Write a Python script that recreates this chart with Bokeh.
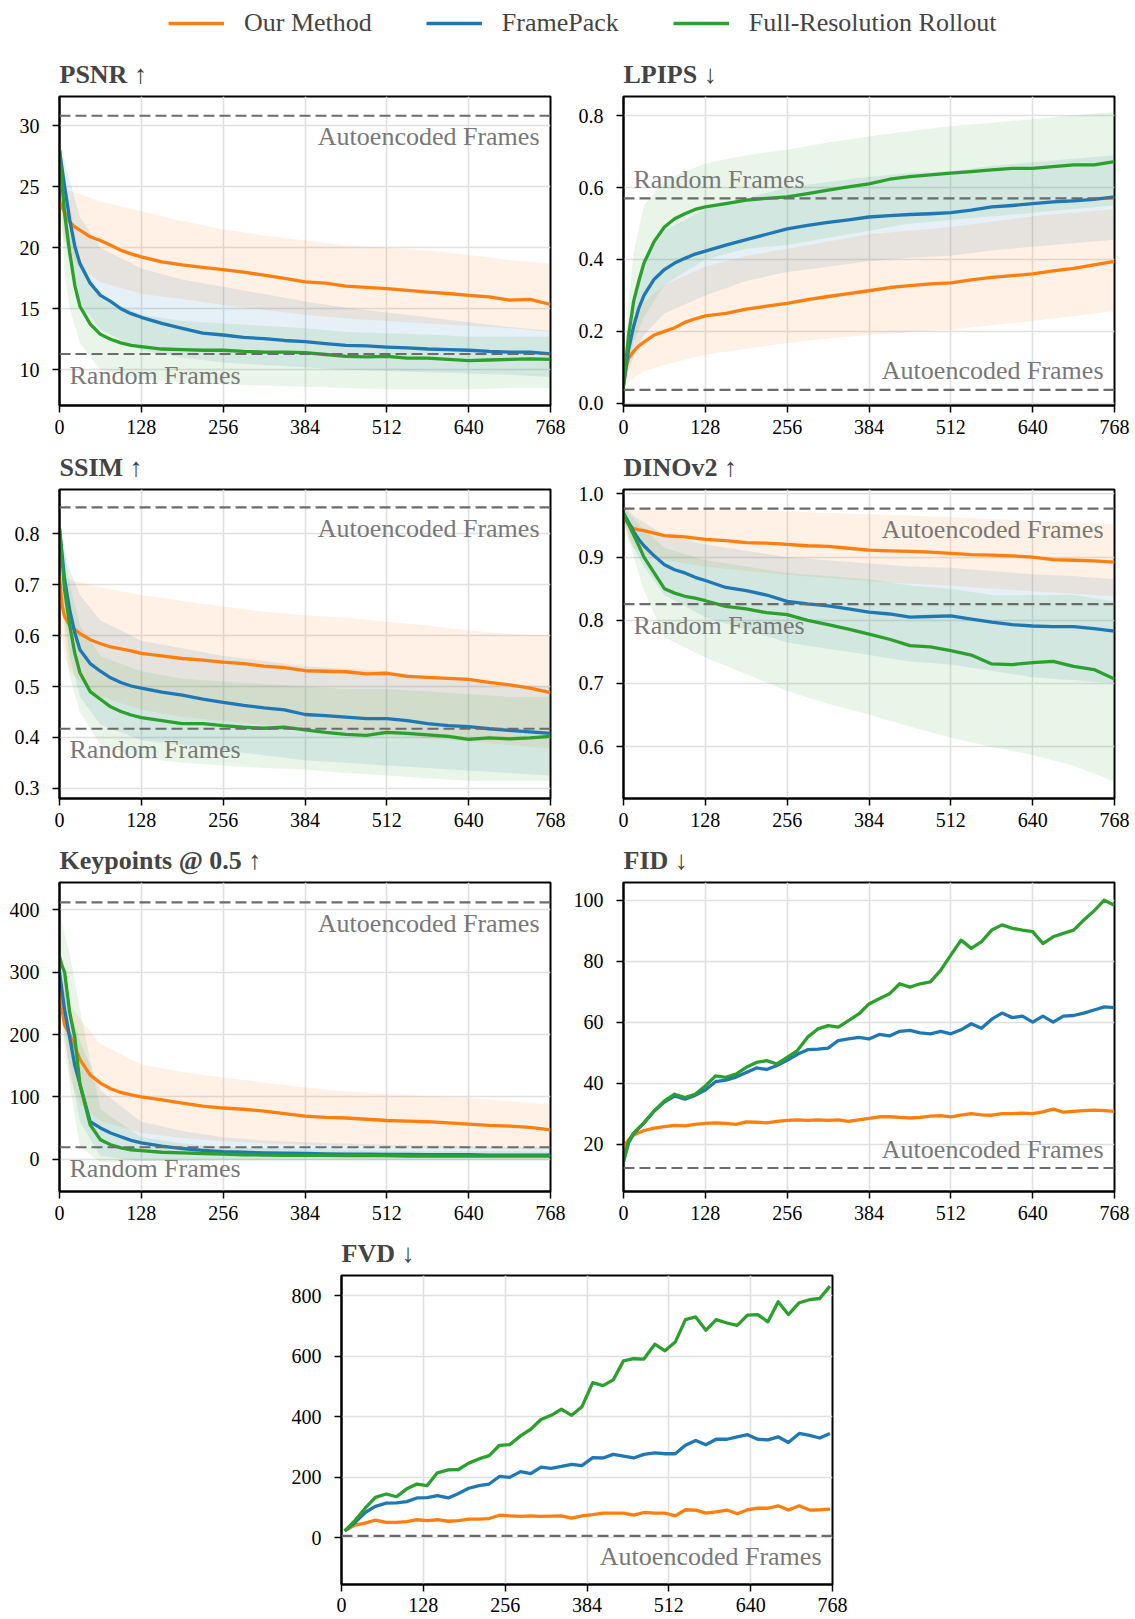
from bokeh.plotting import figure
from bokeh.models import Range1d, FixedTicker, PrintfTickFormatter, Span, Label, Legend, LegendItem
from bokeh.layouts import column, row
from bokeh.embed import file_html
from bokeh.resources import INLINE

# ---------------- data ----------------
METHODS = ["Our Method", "FramePack", "Full-Resolution Rollout"]
X_TICKS = [0, 128, 256, 384, 512, 640, 768]

FRAMES = [0, 4, 8, 16, 24, 32, 48, 64, 80, 96, 112, 128, 160, 192, 224, 256, 288, 320,
          352, 384, 416, 448, 480, 512, 544, 576, 608, 640, 672, 704, 736, 768]
BAND_FRAMES = [0, 8, 16, 32, 64, 128, 192, 256, 320, 384, 448, 512, 576, 640, 704, 768]

# PSNR
PSNR_OURS = [23.8, 23.3, 22.95, 22.1, 21.7, 21.45, 20.9, 20.6, 20.2, 19.8, 19.5, 19.26, 18.85, 18.6, 18.4, 18.2,
             18.0, 17.75, 17.5, 17.2, 17.1, 16.85, 16.75, 16.65, 16.5, 16.37, 16.25, 16.1, 15.97, 15.7, 15.77, 15.35]
PSNR_PACK = [28.0, 26.5, 25.0, 22.3, 20.1, 18.7, 17.1, 16.1, 15.6, 15.0, 14.6, 14.3, 13.8, 13.4, 13.0, 12.85,
             12.65, 12.55, 12.4, 12.3, 12.15, 12.0, 11.95, 11.86, 11.8, 11.7, 11.65, 11.6, 11.5, 11.45, 11.45, 11.3]
PSNR_FULL = [28.0, 25.2, 22.8, 19.6, 16.9, 15.2, 13.75, 12.9, 12.5, 12.2, 12.0, 11.9, 11.7, 11.65, 11.6, 11.6,
             11.5, 11.45, 11.45, 11.4, 11.25, 11.1, 11.05, 11.1, 10.95, 10.95, 10.85, 10.75, 10.8, 10.85, 10.9, 10.85]
PSNR_OURS_HI = [26.0, 25.0, 24.7, 24.4, 23.8, 23.0, 22.2, 21.5, 21.0, 20.6, 20.2, 20.0, 19.8, 19.4, 19.0, 18.7]
PSNR_OURS_LO = [22.0, 20.5, 19.5, 18.3, 17.2, 16.2, 15.8, 15.3, 14.9, 14.5, 14.2, 14.0, 13.8, 13.6, 13.4, 13.1]
PSNR_PACK_HI = [29.0, 27.0, 25.5, 22.5, 20.0, 18.3, 17.4, 16.8, 16.2, 15.6, 15.1, 14.7, 14.3, 13.9, 13.5, 13.2]
PSNR_PACK_LO = [26.0, 21.0, 18.5, 15.5, 13.3, 11.6, 11.0, 10.6, 10.4, 10.2, 10.0, 9.9, 9.8, 9.7, 9.6, 9.4]
PSNR_FULL_HI = [29.0, 26.0, 23.5, 19.0, 16.0, 14.5, 14.0, 13.8, 13.6, 13.4, 13.1, 13.0, 12.9, 12.7, 12.7, 12.7]
PSNR_FULL_LO = [26.0, 18.0, 15.0, 12.2, 10.0, 9.2, 8.9, 8.8, 8.7, 8.6, 8.5, 8.4, 8.4, 8.4, 8.5, 8.5]

# LPIPS
LPIPS_OURS = [0.05, 0.1, 0.125, 0.145, 0.16, 0.17, 0.19, 0.2, 0.21, 0.225, 0.235, 0.243, 0.25, 0.262, 0.27, 0.278,
              0.288, 0.297, 0.305, 0.313, 0.322, 0.327, 0.332, 0.335, 0.343, 0.35, 0.355, 0.36, 0.368, 0.375, 0.385, 0.395]
LPIPS_PACK = [0.05, 0.1, 0.15, 0.215, 0.265, 0.30, 0.345, 0.372, 0.39, 0.403, 0.415, 0.423, 0.44, 0.455, 0.47, 0.485,
              0.495, 0.503, 0.51, 0.518, 0.522, 0.525, 0.527, 0.53, 0.537, 0.546, 0.55, 0.555, 0.56, 0.563, 0.567, 0.574]
LPIPS_FULL = [0.05, 0.12, 0.19, 0.285, 0.34, 0.39, 0.45, 0.49, 0.513, 0.527, 0.539, 0.546, 0.555, 0.565, 0.57, 0.574,
              0.583, 0.593, 0.602, 0.61, 0.623, 0.63, 0.635, 0.64, 0.644, 0.649, 0.653, 0.653, 0.658, 0.663, 0.663, 0.672]
LPIPS_OURS_HI = [0.06, 0.19, 0.23, 0.28, 0.33, 0.38, 0.41, 0.43, 0.45, 0.47, 0.48, 0.49, 0.505, 0.52, 0.53, 0.54]
LPIPS_OURS_LO = [0.04, 0.06, 0.07, 0.089, 0.107, 0.135, 0.152, 0.168, 0.18, 0.19, 0.198, 0.205, 0.217, 0.229, 0.243, 0.257]
LPIPS_PACK_HI = [0.07, 0.22, 0.30, 0.40, 0.48, 0.54, 0.57, 0.60, 0.615, 0.63, 0.64, 0.645, 0.66, 0.67, 0.68, 0.69]
LPIPS_PACK_LO = [0.03, 0.09, 0.13, 0.19, 0.25, 0.30, 0.34, 0.365, 0.38, 0.395, 0.405, 0.41, 0.425, 0.435, 0.445, 0.455]
LPIPS_FULL_HI = [0.08, 0.29, 0.42, 0.55, 0.62, 0.667, 0.69, 0.705, 0.725, 0.742, 0.757, 0.77, 0.78, 0.79, 0.80, 0.81]
LPIPS_FULL_LO = [0.03, 0.12, 0.17, 0.24, 0.33, 0.40, 0.43, 0.44, 0.46, 0.48, 0.50, 0.51, 0.52, 0.53, 0.54, 0.55]

# SSIM
SSIM_OURS = [0.716, 0.66, 0.637, 0.62, 0.612, 0.604, 0.592, 0.584, 0.578, 0.574, 0.57, 0.565, 0.56, 0.555, 0.552, 0.548,
             0.545, 0.54, 0.537, 0.531, 0.53, 0.529, 0.525, 0.526, 0.52, 0.518, 0.516, 0.514, 0.508, 0.503, 0.497, 0.488]
SSIM_PACK = [0.81, 0.76, 0.71, 0.65, 0.605, 0.572, 0.545, 0.53, 0.517, 0.508, 0.501, 0.497, 0.489, 0.483, 0.475, 0.469,
             0.463, 0.458, 0.454, 0.445, 0.443, 0.44, 0.437, 0.437, 0.433, 0.427, 0.423, 0.421, 0.417, 0.414, 0.411, 0.408]
SSIM_FULL = [0.81, 0.75, 0.69, 0.62, 0.565, 0.527, 0.49, 0.475, 0.46, 0.451, 0.444, 0.439, 0.433, 0.427, 0.427, 0.423,
             0.42, 0.418, 0.42, 0.415, 0.41, 0.406, 0.404, 0.41, 0.408, 0.405, 0.402, 0.396, 0.399, 0.397, 0.399, 0.402]
SSIM_OURS_HI = [0.72, 0.715, 0.71, 0.705, 0.695, 0.68, 0.668, 0.657, 0.647, 0.64, 0.635, 0.627, 0.62, 0.61, 0.603, 0.6]
SSIM_OURS_LO = [0.62, 0.56, 0.53, 0.51, 0.48, 0.455, 0.44, 0.432, 0.425, 0.418, 0.41, 0.405, 0.398, 0.392, 0.385, 0.378]
SSIM_PACK_HI = [0.83, 0.77, 0.73, 0.68, 0.63, 0.59, 0.575, 0.56, 0.55, 0.54, 0.535, 0.53, 0.52, 0.512, 0.505, 0.5]
SSIM_PACK_LO = [0.79, 0.64, 0.56, 0.48, 0.425, 0.395, 0.385, 0.375, 0.365, 0.355, 0.35, 0.345, 0.34, 0.335, 0.33, 0.325]
SSIM_FULL_HI = [0.83, 0.76, 0.70, 0.62, 0.56, 0.53, 0.515, 0.51, 0.505, 0.5, 0.495, 0.495, 0.49, 0.485, 0.48, 0.48]
SSIM_FULL_LO = [0.78, 0.60, 0.52, 0.45, 0.385, 0.36, 0.35, 0.345, 0.34, 0.337, 0.33, 0.325, 0.32, 0.315, 0.315, 0.315]

# DINOv2
DINO_OURS = [0.965, 0.958, 0.952, 0.945, 0.943, 0.942, 0.938, 0.934, 0.933, 0.932, 0.93, 0.928, 0.926, 0.923, 0.922, 0.92,
             0.918, 0.917, 0.914, 0.911, 0.91, 0.909, 0.908, 0.906, 0.904, 0.903, 0.902, 0.9, 0.896, 0.895, 0.894, 0.892]
DINO_PACK = [0.97, 0.962, 0.955, 0.94, 0.928, 0.918, 0.902, 0.888, 0.88, 0.875, 0.868, 0.863, 0.852, 0.847, 0.84, 0.83,
             0.826, 0.823, 0.818, 0.813, 0.81, 0.805, 0.806, 0.807, 0.802, 0.797, 0.793, 0.791, 0.79, 0.79, 0.787, 0.783]
DINO_FULL = [0.97, 0.96, 0.952, 0.935, 0.918, 0.9, 0.875, 0.85, 0.843, 0.838, 0.835, 0.831, 0.822, 0.818, 0.812, 0.809,
             0.8, 0.793, 0.786, 0.778, 0.77, 0.76, 0.758, 0.752, 0.745, 0.731, 0.73, 0.733, 0.735, 0.727, 0.722, 0.707]
DINO_OURS_HI = [0.98, 0.978, 0.977, 0.976, 0.975, 0.975, 0.974, 0.972, 0.97, 0.968, 0.966, 0.963, 0.96, 0.958, 0.955, 0.952]
DINO_OURS_LO = [0.95, 0.925, 0.915, 0.905, 0.895, 0.885, 0.878, 0.872, 0.867, 0.862, 0.858, 0.855, 0.85, 0.846, 0.842, 0.838]
DINO_PACK_HI = [0.98, 0.975, 0.965, 0.955, 0.935, 0.92, 0.91, 0.9, 0.895, 0.89, 0.885, 0.883, 0.878, 0.873, 0.87, 0.865]
DINO_PACK_LO = [0.96, 0.935, 0.915, 0.885, 0.84, 0.805, 0.785, 0.765, 0.755, 0.745, 0.735, 0.73, 0.72, 0.71, 0.705, 0.70]
DINO_FULL_HI = [0.98, 0.97, 0.96, 0.945, 0.915, 0.895, 0.885, 0.875, 0.87, 0.865, 0.855, 0.85, 0.84, 0.84, 0.84, 0.83]
DINO_FULL_LO = [0.96, 0.93, 0.90, 0.848, 0.773, 0.741, 0.715, 0.688, 0.668, 0.651, 0.632, 0.614, 0.60, 0.587, 0.57, 0.545]

# Keypoints @ 0.5
KP_OURS = [290, 240, 215, 200, 180, 160, 135, 122, 113, 107, 103, 100, 95, 90, 85, 82,
           80, 77, 73, 69, 67, 66, 64, 62, 61, 60, 58, 56, 54, 53, 51, 47]
KP_PACK = [300, 270, 240, 195, 150, 120, 60, 50, 42, 36, 30, 26, 21, 17, 14, 12,
           11, 10, 9.5, 9, 8.5, 8, 8, 7.5, 7.5, 7, 7, 7, 6.5, 6.5, 6.5, 6.5]
KP_FULL = [325, 310, 300, 235, 195, 120, 55, 31, 23, 18, 15, 13.5, 11, 10, 9, 8,
           7, 6.5, 6, 6, 6, 5.5, 5.5, 5.5, 5, 5, 5, 5, 5, 5, 5, 5]
KP_OURS_HI = [314, 280, 250, 225, 185, 152, 140, 131, 123, 115, 109, 104, 101, 98.5, 93, 88]
KP_OURS_LO = [250, 170, 130, 88, 61, 42, 34, 28.5, 25.5, 23, 21.5, 20, 18.5, 17, 16, 15]
KP_PACK_HI = [330, 300, 240, 190, 110, 60, 45, 35, 30, 27, 25, 23, 22, 21, 20, 20]
KP_PACK_LO = [270, 190, 150, 60, 5, -3, -3, -2, -2, -2, -2, -2, -2, -2, -2, -2]
KP_FULL_HI = [400, 360, 330, 240, 80, 35, 25, 20, 18, 16, 15, 14, 13, 13, 13, 12]
KP_FULL_LO = [250, 220, 120, 20, -5, -3, -2, -2, -2, -2, -2, -2, -2, -2, -2, -2]

# FID
FID_FRAMES = [0, 8, 16, 32, 48, 64, 80, 96, 112, 128, 144, 160, 176, 192, 208, 224, 240, 256, 272, 288,
              304, 320, 336, 352, 368, 384, 400, 416, 432, 448, 464, 480, 496, 512, 528, 544, 560, 576,
              592, 608, 624, 640, 656, 672, 688, 704, 720, 736, 752, 768]
FID_OURS = [19, 21.5, 23, 24.5, 25.3, 25.8, 26.2, 26, 26.5, 26.8, 27, 26.8, 26.5, 27.3, 27.2, 27, 27.5, 27.8, 28, 27.8,
            28, 27.8, 28, 27.5, 28, 28.5, 29, 29, 28.8, 28.6, 28.8, 29.2, 29.4, 29, 29.5, 30, 29.6, 29.5,
            30, 30, 30.2, 30, 30.6, 31.5, 30.5, 30.8, 31, 31.2, 31, 30.8]
FID_PACK = [14.4, 20.5, 23.5, 27, 30.9, 33.8, 35.8, 34.8, 36, 37.8, 40.5, 41, 42, 43.5, 45, 44.5, 45.8, 47.5, 49.5, 51,
            51.2, 51.5, 54, 54.5, 55, 54.5, 56, 55.5, 57, 57.3, 56.5, 56.2, 57, 56.2, 57.5, 59.5, 58, 61,
            63, 61.5, 62, 60, 62, 60, 62, 62.2, 63, 64, 65, 64.8]
FID_FULL = [14.4, 21, 23.7, 27, 30.9, 34.2, 36.4, 35.3, 36.4, 39.1, 42.4, 41.9, 43, 45.2, 46.8, 47.4, 46.3, 48.5, 50.7, 55.1,
            57.8, 58.9, 58.4, 60.5, 62.7, 66, 67.7, 69.3, 72.6, 71.5, 72.6, 73.2, 77, 82, 86.9, 84.2, 86.4, 90.2,
            91.9, 90.8, 90.2, 89.7, 85.8, 88, 89.1, 90.2, 93.5, 96.5, 100, 98.3]

# FVD
FVD_FRAMES = [5, 21, 37, 53, 70, 86, 102, 118, 134, 150, 167, 183, 199, 215, 231, 247, 263, 280, 296, 312,
              328, 344, 360, 376, 393, 409, 425, 441, 457, 473, 490, 506, 522, 538, 554, 570, 586, 603,
              619, 635, 651, 667, 683, 699, 716, 732, 748, 764]
FVD_OURS = [23, 42, 49, 59, 51, 51, 54, 60, 57, 60, 55, 57, 62, 62, 64, 75, 73, 71, 73, 71,
            72, 73, 65, 73, 77, 82, 82, 82, 75, 84, 82, 82, 73, 93, 92, 82, 86, 92,
            80, 93, 98, 98, 106, 92, 106, 92, 93, 95]
FVD_PACK = [23, 51, 84, 104, 115, 116, 120, 132, 133, 140, 132, 147, 164, 173, 178, 203, 200, 219, 212, 234,
            230, 236, 243, 239, 265, 264, 276, 270, 264, 276, 281, 278, 278, 306, 322, 308, 326, 326,
            334, 341, 326, 324, 334, 315, 345, 339, 330, 345]
FVD_FULL = [23, 57, 98, 134, 145, 136, 162, 178, 173, 215, 225, 226, 247, 261, 272, 306, 308, 337, 359, 391,
            405, 425, 405, 433, 513, 503, 522, 585, 592, 591, 640, 618, 647, 721, 730, 686, 721, 710,
            702, 736, 738, 714, 780, 738, 777, 787, 791, 832]

# reference levels: (autoencoded frames, random frames)
PSNR_REF = [30.82, 11.29]
LPIPS_REF = [0.0375, 0.570]
SSIM_REF = [0.852, 0.417]
DINO_REF = [0.9766, 0.8255]
KP_REF = [412, 19]
FID_REF = [12.2]
FVD_REF = [6.5]
REF_NAMES = ["Autoencoded Frames", "Random Frames"]

# ---------------- styling ----------------
FONT = "Liberation Serif"
COLORS = ["#ff7f0e", "#1f77b4", "#2ca02c"]
GRID = "#e0e0e0"
REF_COLOR = "#6b6b6b"
TEXT_GRAY = "#787878"
FRAME_W, FRAME_H = 491, 309


def make_panel(title, yr, y_ticks, fmt, xs, means, bands, refs, above,
               left=59, right=18, top=48, bottom=36, standoff=7):
    p = figure(frame_width=FRAME_W, frame_height=FRAME_H,
               x_range=Range1d(0, 768), y_range=Range1d(yr[0], yr[1]),
               toolbar_location=None, output_backend="svg",
               min_border_left=left, min_border_right=right,
               min_border_top=top, min_border_bottom=bottom)
    p.title.text = title
    p.title.text_font = FONT
    p.title.text_font_style = "bold"
    p.title.text_font_size = "26px"
    p.title.align = "left"
    p.title.standoff = 15

    p.outline_line_color = "black"
    p.outline_line_width = 2
    p.outline_line_alpha = 1
    for ax in p.axis:
        ax.axis_line_color = "black"
        ax.axis_line_width = 2
        ax.major_tick_line_color = "black"
        ax.major_tick_line_width = 1.5
        ax.major_tick_in = 0
        ax.major_tick_out = 7
        ax.minor_tick_line_color = None
        ax.major_label_text_font = FONT
        ax.major_label_text_font_size = "20px"
        ax.major_label_text_color = "black"
    p.xaxis.ticker = FixedTicker(ticks=X_TICKS)
    p.yaxis.ticker = FixedTicker(ticks=y_ticks)
    p.xgrid.ticker = FixedTicker(ticks=X_TICKS)
    p.ygrid.ticker = FixedTicker(ticks=y_ticks)
    p.yaxis.formatter = PrintfTickFormatter(format=fmt)
    p.xaxis.major_label_standoff = standoff
    p.yaxis.major_label_standoff = 13
    p.grid.grid_line_color = GRID
    p.grid.grid_line_width = 1.6

    if bands is not None:
        for (lo, hi), c in zip(bands, COLORS):
            p.varea(x=BAND_FRAMES, y1=lo, y2=hi, fill_color=c, fill_alpha=0.11)
    for ys, c in zip(means, COLORS):
        p.line(xs, ys, line_color=c, line_width=3.3, line_join="round")

    for i, (lvl, up) in enumerate(zip(refs, above)):
        p.add_layout(Span(location=lvl, dimension="width", line_color=REF_COLOR,
                          line_width=2.2, line_dash="11 5"))
        is_ae = (i == 0)
        p.add_layout(Label(x=768 if is_ae else 0, y=lvl,
                           x_offset=-11 if is_ae else 10,
                           y_offset=19 if up else -21,
                           text=REF_NAMES[i],
                           text_align="right" if is_ae else "left",
                           text_baseline="alphabetic",
                           text_font=FONT, text_font_size="26px",
                           text_color=TEXT_GRAY))
    return p


# legend strip
leg = figure(frame_width=1135, frame_height=48, x_range=Range1d(0, 1), y_range=Range1d(0, 1),
             toolbar_location=None, output_backend="svg", x_axis_type=None, y_axis_type=None,
             min_border=0)
leg.outline_line_color = None
leg_renderers = [leg.line(x=[-3, -2], y=[-3, -2], line_color=c, line_width=3.5) for c in COLORS]
legend = Legend(items=[LegendItem(label=m, renderers=[r]) for m, r in zip(METHODS, leg_renderers)],
                orientation="horizontal", location=(168, 10),
                glyph_width=56, glyph_height=30, label_standoff=20, spacing=54,
                padding=0, margin=0, border_line_color=None, background_fill_alpha=0,
                label_text_font=FONT, label_text_font_size="26px", label_height=30)
leg.add_layout(legend, "center")

R = dict(left=55, right=21)

p_psnr = make_panel("PSNR ↑", (7.07, 32.4), [10, 15, 20, 25, 30], "%d", FRAMES,
                    [PSNR_OURS, PSNR_PACK, PSNR_FULL],
                    [(PSNR_OURS_LO, PSNR_OURS_HI), (PSNR_PACK_LO, PSNR_PACK_HI), (PSNR_FULL_LO, PSNR_FULL_HI)],
                    PSNR_REF, [False, False])
p_lpips = make_panel("LPIPS ↓", (-0.006, 0.853), [0.0, 0.2, 0.4, 0.6, 0.8], "%.1f", FRAMES,
                     [LPIPS_OURS, LPIPS_PACK, LPIPS_FULL],
                     [(LPIPS_OURS_LO, LPIPS_OURS_HI), (LPIPS_PACK_LO, LPIPS_PACK_HI), (LPIPS_FULL_LO, LPIPS_FULL_HI)],
                     LPIPS_REF, [True, True], **R)
p_ssim = make_panel("SSIM ↑", (0.28, 0.887), [0.3, 0.4, 0.5, 0.6, 0.7, 0.8], "%.1f", FRAMES,
                    [SSIM_OURS, SSIM_PACK, SSIM_FULL],
                    [(SSIM_OURS_LO, SSIM_OURS_HI), (SSIM_PACK_LO, SSIM_PACK_HI), (SSIM_FULL_LO, SSIM_FULL_HI)],
                    SSIM_REF, [False, False])
p_dino = make_panel("DINOv2 ↑", (0.518, 1.007), [0.6, 0.7, 0.8, 0.9, 1.0], "%.1f", FRAMES,
                    [DINO_OURS, DINO_PACK, DINO_FULL],
                    [(DINO_OURS_LO, DINO_OURS_HI), (DINO_PACK_LO, DINO_PACK_HI), (DINO_FULL_LO, DINO_FULL_HI)],
                    DINO_REF, [False, False], **R)
p_kp = make_panel("Keypoints @ 0.5 ↑", (-52, 444), [0, 100, 200, 300, 400], "%d", FRAMES,
                  [KP_OURS, KP_PACK, KP_FULL],
                  [(KP_OURS_LO, KP_OURS_HI), (KP_PACK_LO, KP_PACK_HI), (KP_FULL_LO, KP_FULL_HI)],
                  KP_REF, [False, False])
p_fid = make_panel("FID ↓", (4.5, 105.8), [20, 40, 60, 80, 100], "%d", FID_FRAMES,
                   [FID_OURS, FID_PACK, FID_FULL], None, FID_REF, [True], **R)
p_fvd = make_panel("FVD ↓", (-154, 867), [0, 200, 400, 600, 800], "%d", FVD_FRAMES,
                   [FVD_OURS, FVD_PACK, FVD_FULL], None, FVD_REF, [False],
                   left=341, right=18, bottom=35, standoff=6)

layout = column(leg, row(p_psnr, p_lpips), row(p_ssim, p_dino), row(p_kp, p_fid), p_fvd)

open("out.html", "w").write(file_html(layout, INLINE))
